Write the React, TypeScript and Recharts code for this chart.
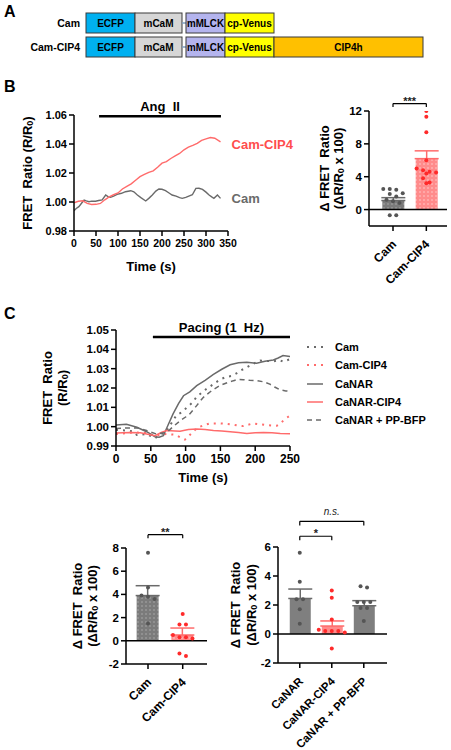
import React from 'react';
import {
  Bar,
  BarChart,
  Cell,
  ComposedChart,
  ErrorBar,
  Line,
  LineChart,
  ReferenceDot,
  ReferenceLine,
  Scatter,
  XAxis,
  YAxis,
} from 'recharts';

const FONT = '"Liberation Sans", Arial, Helvetica, sans-serif';
const GREY = '#6a6a6a';
const RED = '#ff6b6b';
const GREY_DOT = '#555555';
const RED_DOT = '#ff2a2a';

// A - sensor constructs
const constructs = ['Cam', 'Cam-CIP4'];
const domainNames = ['ECFP', 'mCaM', 'linker', 'mMLCK', 'cp-Venus', 'CIP4h'];
const domainSizes = [49, 47, 4, 39, 49, 149];
const domainColours = ['#00b0f0', '#d6d6d6', '#7f9fbf', '#b4b4ee', '#ffff00', '#ffc000'];
const hasCip4 = [false, true];

// B - Ang II time course
const bCip4Time = [0, 10, 20, 30, 40, 50, 60, 70, 80, 90, 100, 110, 120, 130, 140, 150, 160, 170, 180, 190, 200, 210, 220, 230, 240, 250, 260, 270, 280, 290, 300, 310, 320, 333];
const bCip4Ratio = [0.9995, 1.0005, 1.0008, 0.999, 0.9983, 0.9984, 0.999, 1.0015, 1.0035, 1.005, 1.0062, 1.009, 1.0108, 1.0125, 1.015, 1.0175, 1.019, 1.0205, 1.0215, 1.024, 1.0268, 1.0278, 1.03, 1.0318, 1.0335, 1.036, 1.0378, 1.039, 1.0405, 1.0425, 1.0435, 1.0445, 1.044, 1.0415];
const bCamTime = [0, 5, 11, 18, 23, 28, 34, 40, 49, 56, 64, 72, 78, 83, 90, 98, 108, 117, 129, 136, 144, 152, 163, 170, 178, 186, 193, 200, 208, 216, 223, 232, 240, 246, 254, 261, 269, 277, 284, 292, 300, 307, 313, 318, 326, 333];
const bCamRatio = [0.994, 0.9955, 0.9968, 0.9995, 1.0014, 1.0008, 1.0002, 1.0006, 1.0005, 1.001, 1.0014, 1.0048, 1.0035, 1.0032, 1.004, 1.0053, 1.006, 1.0071, 1.0078, 1.007, 1.0048, 1.003, 1.0007, 1.0025, 1.0048, 1.0075, 1.009, 1.0088, 1.0078, 1.0062, 1.0048, 1.004, 1.003, 1.0025, 1.0032, 1.0041, 1.005, 1.0094, 1.0095, 1.0087, 1.0068, 1.0048, 1.0035, 1.0025, 1.0048, 1.0025];
const bTimeTicks = [0, 50, 100, 150, 200, 250, 300, 350];
const bRatioTicks = [0.98, 1.0, 1.02, 1.04, 1.06];
const angIIWindow = [57, 334];

// B - summary
const bGroups = ['Cam', 'Cam-CIP4'];
const bMeans = [1.1, 6.2];
const bSems = [0.35, 0.95];
const bCamPoints = [2.5, 2.5, 2.4, 2.0, 1.9, 1.6, 1.2, 1.0, 0.8, -0.7, -0.7];
const bCip4Points = [12.0, 11.3, 9.4, 6.0, 5.0, 4.8, 4.6, 4.5, 4.4, 3.8, 3.3, 3.2];
const bDeltaTicks = [-2, 0, 2, 4, 6, 8, 10, 12];

// C - pacing time course
const cCamT = [0, 15, 25, 30, 44, 56, 65, 73, 80, 87, 95, 102, 110, 116, 128, 140, 150, 159, 166, 173, 180, 188, 197, 207, 216, 226, 235, 240, 250];
const cCamV = [0.9983, 0.998, 0.9975, 0.9957, 0.9962, 0.9941, 0.996, 0.998, 1.002, 1.006, 1.0075, 1.01, 1.0125, 1.0155, 1.019, 1.022, 1.0245, 1.0258, 1.0262, 1.0275, 1.0292, 1.0307, 1.0325, 1.0342, 1.034, 1.0338, 1.0345, 1.0336, 1.0349];
const cCamCip4T = [0, 25, 44, 56, 65, 73, 85, 92, 99, 106, 114, 121, 128, 135, 149, 160, 169, 176, 183, 190, 197, 207, 217, 224, 231, 236, 240, 245, 250];
const cCamCip4V = [0.9962, 0.997, 0.9967, 0.9953, 0.996, 0.9962, 0.9958, 0.9945, 0.9933, 0.9957, 0.9985, 1.0, 1.001, 1.0017, 1.0017, 1.0014, 1.001, 1.0005, 1.0003, 1.001, 1.0017, 1.0012, 1.0008, 1.0006, 1.0005, 1.0015, 1.003, 1.0045, 1.0057];
const cCanarT = [0, 15, 30, 44, 56, 62, 68, 75, 82, 90, 97, 106, 116, 128, 140, 152, 164, 176, 188, 202, 214, 226, 233, 240, 250];
const cCanarV = [1.0009, 1.0012, 0.9997, 0.9974, 0.9948, 0.9945, 0.9953, 1.001, 1.0066, 1.012, 1.016, 1.018, 1.0212, 1.024, 1.027, 1.0297, 1.032, 1.033, 1.0333, 1.0328, 1.0338, 1.0345, 1.0355, 1.0368, 1.0363];
const cCanarCip4T = [0, 20, 35, 44, 56, 65, 73, 85, 92, 104, 116, 128, 140, 152, 164, 176, 188, 200, 212, 224, 236, 250];
const cCanarCip4V = [0.9967, 0.997, 0.9968, 0.9962, 0.9953, 0.997, 0.998, 0.9978, 0.9976, 0.9985, 0.9988, 0.9985, 0.998, 0.9978, 0.9974, 0.997, 0.9965, 0.9968, 0.997, 0.9968, 0.9965, 0.9964];
const cPpT = [0, 15, 30, 44, 58, 66, 73, 82, 92, 100, 106, 115, 125, 137, 149, 160, 169, 176, 183, 192, 202, 212, 221, 228, 236, 244, 250];
const cPpV = [0.9991, 0.9993, 0.9994, 0.998, 0.9962, 0.9967, 0.997, 1.0, 1.003, 1.005, 1.0066, 1.0105, 1.015, 1.0185, 1.0212, 1.0228, 1.0238, 1.0245, 1.0243, 1.024, 1.0238, 1.0232, 1.022, 1.0205, 1.019, 1.0185, 1.0183];
const cTimeTicks = [0, 50, 100, 150, 200, 250];
const cRatioTicks = [0.99, 1.0, 1.01, 1.02, 1.03, 1.04, 1.05];
const pacingWindow = [53, 250];

// C - summaries
const cLeftGroups = ['Cam', 'Cam-CIP4'];
const cLeftMeans = [3.9, 0.5];
const cLeftSems = [0.85, 0.6];
const cLeftCamPoints = [7.6, 4.6, 3.9, 3.8, 3.6, 1.5];
const cLeftCip4Points = [2.3, 1.4, 1.4, 0.5, 0.3, 0.3, 0.2, -1.1, -1.3];
const cLeftTicks = [-2, 0, 2, 4, 6, 8];

const cRightGroups = ['CaNAR', 'CaNAR-CIP4', 'CaNAR + PP-BFP'];
const cRightMeans = [2.45, 0.55, 1.95];
const cRightSems = [0.65, 0.35, 0.35];
const cRightCanarPoints = [5.6, 3.6, 2.4, 2.4, 1.7, 0.7];
const cRightCip4Points = [3.0, 2.5, 1.0, 0.3, 0.2, 0.2, 0.2, 0.1, -1.0];
const cRightPpPoints = [3.3, 3.2, 2.2, 2.2, 2.2, 1.8, 1.8, 0.9];
const cRightTicks = [-2, 0, 2, 4, 6];

const series = (t: number[], v: number[]) => t.map((time, i) => ({ t: time, v: v[i] }));

const cTraces = [
  { name: 'Cam', data: series(cCamT, cCamV), colour: GREY, dash: '2 5', width: 2 },
  { name: 'Cam-CIP4', data: series(cCamCip4T, cCamCip4V), colour: RED, dash: '2 5', width: 2 },
  { name: 'CaNAR', data: series(cCanarT, cCanarV), colour: GREY, dash: undefined, width: 1.5 },
  { name: 'CaNAR-CIP4', data: series(cCanarCip4T, cCanarCip4V), colour: RED, dash: undefined, width: 1.5 },
  { name: 'CaNAR + PP-BFP', data: series(cPpT, cPpV), colour: GREY, dash: '5 4', width: 1.5 },
];

const axisProps = {
  axisLine: { stroke: '#000', strokeWidth: 1.5 },
  tickLine: { stroke: '#000', strokeWidth: 1.5 },
  tickSize: 5,
};
const tickFont = (fontSize: number) => ({ fill: '#000', fontWeight: 700, fontSize, fontFamily: FONT });

function vText(cx: number, cy: number, content: React.ReactNode) {
  return (
    <text
      x={cx}
      y={cy}
      transform={`rotate(-90 ${cx} ${cy})`}
      textAnchor="middle"
      dominantBaseline="central"
      fontSize={13}
      fontWeight={700}
      fill="#000"
      style={{ whiteSpace: 'pre' }}
    >
      {content}
    </text>
  );
}

const ratioSub = (tail: string) => [
  <tspan key="s" fontSize={9} dy={3}>0</tspan>,
  <tspan key="t" dy={-3}>{tail}</tspan>,
];

const ratioTitleOneLine = (x: number) => (p: any) => {
  const vb = p.viewBox;
  return vText(x, vb.y + vb.height / 2, ['FRET  Ratio (R/R', ...ratioSub(')')]);
};

const ratioTitleTwoLines = (x1: number, x2: number) => (p: any) => {
  const vb = p.viewBox;
  const cy = vb.y + vb.height / 2;
  return (
    <g>
      {vText(x1, cy, 'FRET  Ratio')}
      {vText(x2, cy, ['(R/R', ...ratioSub(')')])}
    </g>
  );
};

const deltaTitle = (x1: number, x2: number) => (p: any) => {
  const vb = p.viewBox;
  const cy = vb.y + vb.height / 2;
  return (
    <g>
      {vText(x1, cy, '\u0394 FRET  Ratio')}
      {vText(x2, cy, ['(\u0394R/R', ...ratioSub(' x 100)')])}
    </g>
  );
};

const xTitle = (text: string, dy: number) => (p: any) => {
  const vb = p.viewBox;
  return (
    <text x={vb.x + vb.width / 2} y={vb.y + dy} textAnchor="middle" fontSize={13} fontWeight={700} fill="#000">
      {text}
    </text>
  );
};

const stimLabel = (text: string) => (p: any) => {
  const vb = p.viewBox;
  return (
    <text x={vb.x + vb.width / 2} y={vb.y - 5} textAnchor="middle" fontSize={13} fontWeight={700} fill="#000" style={{ whiteSpace: 'pre' }}>
      {text}
    </text>
  );
};

const endLabel = (text: string, colour: string, dy: number) => (p: any) => {
  const vb = p.viewBox;
  return (
    <text x={vb.x + 11} y={vb.y + dy} dominantBaseline="central" fontSize={13} fontWeight={700} fill={colour}>
      {text}
    </text>
  );
};

const slantTick = (names: string[], fontSize: number) => (p: any) => {
  const name = names[Math.round(p.payload.value) - 1];
  const x = p.x + 4;
  const y = p.y + 12;
  return (
    <text x={x} y={y} transform={`rotate(-45 ${x} ${y})`} textAnchor="end" fontSize={fontSize} fontWeight={700} fill="#000">
      {name}
    </text>
  );
};

// spread points of similar value sideways, like a GraphPad scatter
function swarm(values: number[], group: number, yTol: number, xStep: number) {
  const sorted = [...values].sort((a, b) => b - a);
  const out: { x: number; v: number }[] = [];
  let i = 0;
  while (i < sorted.length) {
    let j = i;
    while (j + 1 < sorted.length && sorted[i] - sorted[j + 1] < yTol) j++;
    const n = j - i + 1;
    for (let k = 0; k < n; k++) out.push({ x: group + (k - (n - 1) / 2) * xStep, v: sorted[i + k] });
    i = j + 1;
  }
  return out;
}

const dotShape = (colour: string) => (p: any) => <circle cx={p.cx} cy={p.cy} r={2} fill={colour} />;

const segmentShape = (label: string, colour: string) => (p: any) => {
  if (!p.width || p.width <= 0) return <g />;
  const cy = p.y + p.height / 2;
  if (label === 'linker') {
    return <line x1={p.x} x2={p.x + p.width} y1={cy} y2={cy} stroke={colour} strokeWidth={1.5} />;
  }
  const fit = label === 'mMLCK' ? { textLength: p.width - 2, lengthAdjust: 'spacingAndGlyphs' } : {};
  return (
    <g>
      <rect x={p.x} y={p.y} width={p.width} height={p.height} fill={colour} stroke="#3a3a3a" strokeWidth={1} />
      <text x={p.x + p.width / 2} y={cy} textAnchor="middle" dominantBaseline="central" fontSize={10} fontWeight={700} fill="#000" {...fit}>
        {label}
      </text>
    </g>
  );
};

type Bracket = { from: number; to: number; y: number; leg: number; text: string; italic?: boolean };

function bracketLines(b: Bracket, key: string) {
  const label = (p: any) => {
    const vb = p.viewBox;
    return (
      <text
        x={vb.x + vb.width / 2}
        y={b.italic ? vb.y - 6 : vb.y + 1}
        textAnchor="middle"
        fontSize={b.italic ? 10 : 11}
        fontWeight={b.italic ? 400 : 700}
        fontStyle={b.italic ? 'italic' : 'normal'}
        fill="#222"
      >
        {b.text}
      </text>
    );
  };
  return [
    <ReferenceLine key={key + 'h'} segment={[{ x: b.from, y: b.y }, { x: b.to, y: b.y }]} stroke="#000" strokeWidth={1.2} ifOverflow="visible" label={label} />,
    <ReferenceLine key={key + 'l'} segment={[{ x: b.from, y: b.y }, { x: b.from, y: b.y - b.leg }]} stroke="#000" strokeWidth={1.2} ifOverflow="visible" />,
    <ReferenceLine key={key + 'r'} segment={[{ x: b.to, y: b.y }, { x: b.to, y: b.y - b.leg }]} stroke="#000" strokeWidth={1.2} ifOverflow="visible" />,
  ];
}

type SummaryProps = {
  id: string;
  left: number;
  top: number;
  width: number;
  height: number;
  marginTop: number;
  marginRight: number;
  yAxisWidth: number;
  xAxisHeight: number;
  xDomain: [number, number];
  yDomain: [number, number];
  yTicks: number[];
  names: string[];
  means: number[];
  sems: number[];
  fills: string[];
  errColours: string[];
  points: number[][];
  dotColours: string[];
  titleX: [number, number];
  brackets: Bracket[];
  pxX: number;
  pxY: number;
  barSize: number;
  labelSize: number;
};

function SummaryChart(s: SummaryProps) {
  const rows = s.names.map((_, i) => {
    const r: Record<string, any> = { x: i + 1, mean: s.means[i] };
    r['e' + i] = [0, s.sems[i]];
    return r;
  });
  return (
    <div style={{ position: 'absolute', left: s.left, top: s.top }}>
      <ComposedChart width={s.width} height={s.height} data={rows} margin={{ top: s.marginTop, right: s.marginRight, bottom: 0, left: 0 }}>
        <defs>
          <pattern id={`${s.id}-grey`} width={4} height={4} patternUnits="userSpaceOnUse">
            <rect width={4} height={4} fill="#7b7b7b" />
            <circle cx={2} cy={2} r={0.8} fill="#acacac" />
          </pattern>
          <pattern id={`${s.id}-red`} width={4} height={4} patternUnits="userSpaceOnUse">
            <rect width={4} height={4} fill="#ff8b8b" />
            <circle cx={2} cy={2} r={0.8} fill="#ffcaca" />
          </pattern>
        </defs>
        <XAxis
          type="number"
          dataKey="x"
          domain={s.xDomain}
          ticks={s.names.map((_, i) => i + 1)}
          allowDataOverflow
          height={s.xAxisHeight}
          {...axisProps}
          tick={slantTick(s.names, s.labelSize)}
        />
        <XAxis xAxisId="dots" type="number" dataKey="x" domain={s.xDomain} allowDataOverflow hide />
        <YAxis
          type="number"
          domain={s.yDomain}
          ticks={s.yTicks}
          allowDataOverflow
          width={s.yAxisWidth}
          {...axisProps}
          tickMargin={2}
          tick={tickFont(11.5)}
          label={deltaTitle(s.titleX[0], s.titleX[1])}
        />
        <Bar dataKey="mean" barSize={s.barSize} isAnimationActive={false}>
          {rows.map((_, i) => (
            <Cell key={i} fill={s.fills[i]} />
          ))}
          {rows.map((_, i) => (
            <ErrorBar key={i} dataKey={'e' + i} direction="y" width={12} stroke={s.errColours[i]} strokeWidth={1.5} />
          ))}
        </Bar>
        <ReferenceLine y={0} stroke="#000" strokeWidth={1.5} />
        {s.points.map((vals, i) => (
          <Scatter
            key={i}
            xAxisId="dots"
            data={swarm(vals, i + 1, 4.5 / s.pxY, 6.5 / s.pxX)}
            dataKey="v"
            isAnimationActive={false}
            shape={dotShape(s.dotColours[i])}
          />
        ))}
        {s.brackets.flatMap((b, i) => bracketLines(b, 'b' + i))}
      </ComposedChart>
    </div>
  );
}

const letter = (text: string, top: number) => (
  <div style={{ position: 'absolute', left: 4, top, fontSize: 16, fontWeight: 700, lineHeight: 1 }}>{text}</div>
);

export default function App() {
  const constructRows = constructs.map((name, r) => {
    const row: Record<string, any> = { name };
    domainNames.forEach((d, i) => {
      if (d !== 'CIP4h' || hasCip4[r]) row[d] = domainSizes[i];
    });
    return row;
  });
  const bCip4 = series(bCip4Time, bCip4Ratio);
  const bCam = series(bCamTime, bCamRatio);
  const bCip4Last = bCip4[bCip4.length - 1];
  const bCamLast = bCam[bCam.length - 1];

  return (
    <div style={{ position: 'absolute', left: 0, top: 0, width: 451, height: 750, background: '#fff', fontFamily: FONT, color: '#000' }}>
      {letter('A', 4)}
      {letter('B', 79)}
      {letter('C', 306)}

      {/* A: constructs */}
      <div style={{ position: 'absolute', left: 0, top: 0 }}>
        <BarChart width={451} height={70} layout="vertical" data={constructRows} margin={{ top: 11, right: 28, bottom: 11, left: 0 }} barCategoryGap={0}>
          <XAxis type="number" domain={[0, domainSizes.reduce((a, b) => a + b, 0)]} hide />
          <YAxis type="category" dataKey="name" width={86} axisLine={false} tickLine={false} tickSize={0} tickMargin={6} tick={tickFont(10.5)} />
          {domainNames.map((d, i) => (
            <Bar key={d} dataKey={d} stackId="c" barSize={20} isAnimationActive={false} shape={segmentShape(d, domainColours[i])} />
          ))}
        </BarChart>
      </div>

      {/* B: time course */}
      <div style={{ position: 'absolute', left: 0, top: 95 }}>
        <LineChart width={300} height={185} margin={{ top: 20, right: 72, bottom: 0, left: 0 }}>
          <XAxis
            type="number"
            dataKey="t"
            domain={[0, 350]}
            ticks={bTimeTicks}
            allowDataOverflow
            height={49}
            {...axisProps}
            tickMargin={4}
            tick={tickFont(10.5)}
            label={xTitle('Time (s)', 39.5)}
          />
          <YAxis
            type="number"
            domain={[0.98, 1.06]}
            ticks={bRatioTicks}
            allowDataOverflow
            width={74}
            {...axisProps}
            tickMargin={2}
            tickFormatter={(v: number) => v.toFixed(2)}
            tick={tickFont(11)}
            label={ratioTitleOneLine(27)}
          />
          <ReferenceLine
            segment={[{ x: angIIWindow[0], y: 1.0591 }, { x: angIIWindow[1], y: 1.0591 }]}
            stroke="#000"
            strokeWidth={2.5}
            ifOverflow="visible"
            label={stimLabel('Ang  II')}
          />
          <Line data={bCam} dataKey="v" stroke={GREY} strokeWidth={1.4} dot={false} isAnimationActive={false} />
          <Line data={bCip4} dataKey="v" stroke={RED} strokeWidth={1.4} dot={false} isAnimationActive={false} />
          <ReferenceDot x={bCip4Last.t} y={bCip4Last.v} r={0} ifOverflow="visible" label={endLabel('Cam-CIP4', '#ff4d4d', 3)} />
          <ReferenceDot x={bCamLast.t} y={bCamLast.v} r={0} ifOverflow="visible" label={endLabel('Cam', GREY, 0)} />
        </LineChart>
      </div>

      {/* B: summary */}
      <SummaryChart
        id="bsum"
        left={290}
        top={90}
        width={161}
        height={205}
        marginTop={21}
        marginRight={4}
        yAxisWidth={79}
        xAxisHeight={69}
        xDomain={[0.28, 2.62]}
        yDomain={[-2, 12]}
        yTicks={bDeltaTicks}
        names={bGroups}
        means={bMeans}
        sems={bSems}
        fills={['url(#bsum-grey)', 'url(#bsum-red)']}
        errColours={[GREY, RED]}
        points={[bCamPoints, bCip4Points]}
        dotColours={[GREY_DOT, RED_DOT]}
        titleX={[34, 48]}
        brackets={[{ from: 1, to: 2, y: 12.9, leg: 0.4, text: '***' }]}
        pxX={33.4}
        pxY={8.2}
        barSize={22}
        labelSize={12}
      />

      {/* C: time course */}
      <div style={{ position: 'absolute', left: 0, top: 300 }}>
        <LineChart width={300} height={190} margin={{ top: 30, right: 10, bottom: 0, left: 0 }}>
          <XAxis
            type="number"
            dataKey="t"
            domain={[0, 250]}
            ticks={cTimeTicks}
            allowDataOverflow
            height={44}
            {...axisProps}
            tickMargin={3}
            tick={tickFont(12)}
            label={xTitle('Time (s)', 36)}
          />
          <YAxis
            type="number"
            domain={[0.99, 1.05]}
            ticks={cRatioTicks}
            allowDataOverflow
            width={116}
            {...axisProps}
            tickMargin={2}
            tickFormatter={(v: number) => v.toFixed(2)}
            tick={tickFont(11.5)}
            label={ratioTitleTwoLines(47, 62)}
          />
          <ReferenceLine
            segment={[{ x: pacingWindow[0], y: 1.0464 }, { x: pacingWindow[1], y: 1.0464 }]}
            stroke="#000"
            strokeWidth={2.5}
            ifOverflow="visible"
            label={stimLabel('Pacing (1  Hz)')}
          />
          {cTraces.map((tr) => (
            <Line
              key={tr.name}
              data={tr.data}
              dataKey="v"
              stroke={tr.colour}
              strokeWidth={tr.width}
              strokeDasharray={tr.dash}
              dot={false}
              isAnimationActive={false}
            />
          ))}
        </LineChart>
      </div>
      {cTraces.map((tr, i) => (
        <div key={tr.name} style={{ position: 'absolute', left: 305, top: 338 + i * 18.3, height: 18, display: 'flex', alignItems: 'center' }}>
          <svg width={20} height={18}>
            <line x1={2} x2={18} y1={9} y2={9} stroke={tr.colour} strokeWidth={tr.width} strokeDasharray={tr.dash} />
          </svg>
          <span style={{ marginLeft: 10, fontSize: 11, fontWeight: 700 }}>{tr.name}</span>
        </div>
      ))}

      {/* C: summaries */}
      <SummaryChart
        id="cleft"
        left={0}
        top={520}
        width={220}
        height={230}
        marginTop={28}
        marginRight={13}
        yAxisWidth={126}
        xAxisHeight={86}
        xDomain={[0.366, 2.7]}
        yDomain={[-2, 8]}
        yTicks={cLeftTicks}
        names={cLeftGroups}
        means={cLeftMeans}
        sems={cLeftSems}
        fills={['url(#cleft-grey)', 'url(#cleft-red)']}
        errColours={[GREY, RED]}
        points={[cLeftCamPoints, cLeftCip4Points]}
        dotColours={[GREY_DOT, RED_DOT]}
        titleX={[77, 92]}
        brackets={[{ from: 1, to: 2, y: 9.15, leg: 0.3, text: '**' }]}
        pxX={34.7}
        pxY={11.6}
        barSize={22}
        labelSize={12}
      />
      <SummaryChart
        id="cright"
        left={225}
        top={500}
        width={226}
        height={250}
        marginTop={47}
        marginRight={64}
        yAxisWidth={53}
        xAxisHeight={87}
        xDomain={[0.32, 3.725]}
        yDomain={[-2, 6]}
        yTicks={cRightTicks}
        names={cRightGroups}
        means={cRightMeans}
        sems={cRightSems}
        fills={['#7f7f7f', '#ff8b8b', '#7f7f7f']}
        errColours={[GREY, RED, GREY]}
        points={[cRightCanarPoints, cRightCip4Points, cRightPpPoints]}
        dotColours={[GREY_DOT, RED_DOT, GREY_DOT]}
        titleX={[10, 26]}
        brackets={[
          { from: 1, to: 3, y: 7.77, leg: 0.28, text: 'n.s.', italic: true },
          { from: 1, to: 2, y: 6.74, leg: 0.28, text: '*' },
        ]}
        pxX={32}
        pxY={14.5}
        barSize={21}
        labelSize={11.5}
      />
    </div>
  );
}
